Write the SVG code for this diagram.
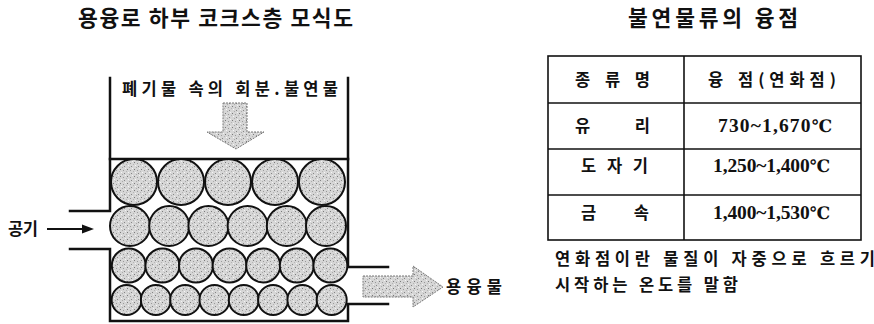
<svg xmlns="http://www.w3.org/2000/svg" width="874" height="324" viewBox="0 0 874 324">
  <defs>
    <!-- speckled grey used for coke lumps and flow arrows -->
    <pattern id="stipple" width="7" height="7" patternUnits="userSpaceOnUse">
      <rect width="7" height="7" fill="#d6d6d6"/>
      <rect x="1" y="1" width="1" height="1" fill="#7a7a7a"/>
      <rect x="4" y="2" width="1" height="1" fill="#9a9a9a"/>
      <rect x="2" y="4" width="1" height="1" fill="#f6f6f6"/>
      <rect x="5" y="5" width="1" height="1" fill="#858585"/>
      <rect x="3" y="6" width="1" height="1" fill="#ababab"/>
      <rect x="6" y="0" width="1" height="1" fill="#f2f2f2"/>
      <rect x="0" y="3" width="1" height="1" fill="#b4b4b4"/>
    </pattern>
  </defs>
  <style>
    .ko { font-family: "Noto Sans CJK KR", "Noto Sans", sans-serif; fill: #111; }
    .title { font-size: 21.5px; font-weight: 700; }
    .lbl { font-size: 16.5px; font-weight: 700; }
    .num { font-family: "Liberation Serif", "Noto Sans CJK KR", serif; font-size: 19.5px; font-weight: 700; fill: #111; }
    .deg { font-family: "DejaVu Serif", "Liberation Serif", serif; font-size: 17px; }
    .wall { fill: none; stroke: #111; stroke-width: 2.5; stroke-linecap: square; }
    .coke { fill: url(#stipple); stroke: #111; stroke-width: 2; }
    .flow { fill: url(#stipple); stroke: #777; stroke-width: 1; stroke-dasharray: 2 1; }
    .grid { fill: none; stroke: #111; stroke-width: 1.6; }
  </style>

  <!-- headings -->
  <g id="title-left">
    <text class="ko title" x="78" y="26" textLength="275" lengthAdjust="spacing">용융로 하부 코크스층 모식도</text>
  </g>
  <g id="title-right">
    <text class="ko title" x="628" y="26" textLength="170" lengthAdjust="spacing">불연물류의 융점</text>
  </g>

  <!-- furnace shell -->
  <g id="furnace">
    <path class="wall" d="M110,78 V211 H70 M70,249 H110 V321 H348 V304 H388 M388,267 H348 V78"/>
    <path class="wall" d="M110,159 H348"/>
    <text class="ko lbl" x="122" y="95" textLength="216" lengthAdjust="spacing">폐기물 속의 회분.불연물</text>
  </g>

  <!-- coke bed -->
  <g id="coke-bed">
    <g id="row1">
      <circle class="coke" cx="134" cy="182" r="23"/>
      <circle class="coke" cx="181" cy="182" r="23"/>
      <circle class="coke" cx="228" cy="182" r="23"/>
      <circle class="coke" cx="275" cy="182" r="23"/>
      <circle class="coke" cx="322" cy="182" r="23"/>
    </g>
    <g id="row2">
      <circle class="coke" cx="130" cy="226" r="20"/>
      <circle class="coke" cx="169.2" cy="226" r="20"/>
      <circle class="coke" cx="208.4" cy="226" r="20"/>
      <circle class="coke" cx="247.6" cy="226" r="20"/>
      <circle class="coke" cx="286.8" cy="226" r="20"/>
      <circle class="coke" cx="326" cy="226" r="20"/>
    </g>
    <g id="row3">
      <circle class="coke" cx="128.8" cy="265.5" r="17"/>
      <circle class="coke" cx="162.4" cy="265.5" r="17"/>
      <circle class="coke" cx="196" cy="265.5" r="17"/>
      <circle class="coke" cx="229.6" cy="265.5" r="17"/>
      <circle class="coke" cx="263.2" cy="265.5" r="17"/>
      <circle class="coke" cx="296.8" cy="265.5" r="17"/>
      <circle class="coke" cx="330.4" cy="265.5" r="17"/>
    </g>
    <g id="row4">
      <circle class="coke" cx="126.6" cy="300" r="15"/>
      <circle class="coke" cx="155.9" cy="300" r="15"/>
      <circle class="coke" cx="185.2" cy="300" r="15"/>
      <circle class="coke" cx="214.5" cy="300" r="15"/>
      <circle class="coke" cx="243.8" cy="300" r="15"/>
      <circle class="coke" cx="273.1" cy="300" r="15"/>
      <circle class="coke" cx="302.4" cy="300" r="15"/>
      <circle class="coke" cx="331.7" cy="300" r="15"/>
    </g>
  </g>

  <!-- flows in and out -->
  <g id="connectors">
    <polygon id="feed-arrow" class="flow" points="223,103 247,103 247,132 264,132 236,149 207,132 223,132"/>
    <g id="air-arrow">
      <line x1="47" y1="229" x2="85" y2="229" stroke="#111" stroke-width="1.8"/>
      <polygon points="82,224.5 94,229 82,233.5" fill="#111"/>
    </g>
    <polygon id="melt-arrow" class="flow" points="363,276 413,276 413,266 443,287 413,307 413,297 363,297"/>
  </g>

  <g id="air">
    <text class="ko lbl" x="8" y="235" textLength="30" lengthAdjust="spacing">공기</text>
  </g>
  <g id="melt">
    <text class="ko lbl" x="446" y="293" textLength="56" lengthAdjust="spacing">용융물</text>
  </g>

  <!-- melting point table -->
  <g id="table">
    <rect class="grid" x="548" y="56" width="313" height="184"/>
    <line class="grid" x1="684" y1="56" x2="684" y2="240"/>
    <line class="grid" x1="548" y1="103" x2="861" y2="103"/>
    <line class="grid" x1="548" y1="149" x2="861" y2="149"/>
    <line class="grid" x1="548" y1="195" x2="861" y2="195"/>

    <text class="ko lbl" x="575" y="86" textLength="75" lengthAdjust="spacing">종 류 명</text>
    <text class="ko lbl" x="708" y="86">융</text>
    <text class="ko lbl" x="738" y="86" textLength="98" lengthAdjust="spacing">점(연화점)</text>

    <text class="ko lbl" x="575" y="131.5" textLength="75" lengthAdjust="spacing">유    리</text>
    <text class="num" x="718" y="132" textLength="114" lengthAdjust="spacing">730~1,670<tspan class="deg">℃</tspan></text>

    <text class="ko lbl" x="581" y="171.5" textLength="67" lengthAdjust="spacing">도 자 기</text>
    <text class="num" x="713" y="172" textLength="117" lengthAdjust="spacing">1,250~1,400<tspan class="deg">℃</tspan></text>

    <text class="ko lbl" x="581" y="218.5" textLength="68" lengthAdjust="spacing">금     속</text>
    <text class="num" x="713" y="219" textLength="117" lengthAdjust="spacing">1,400~1,530<tspan class="deg">℃</tspan></text>
  </g>

  <g id="note">
    <text class="ko lbl" x="555" y="264.5" textLength="320" lengthAdjust="spacing">연화점이란 물질이 자중으로 흐르기</text>
    <text class="ko lbl" x="555" y="290.5" textLength="183" lengthAdjust="spacing">시작하는 온도를 말함</text>
  </g>
</svg>
